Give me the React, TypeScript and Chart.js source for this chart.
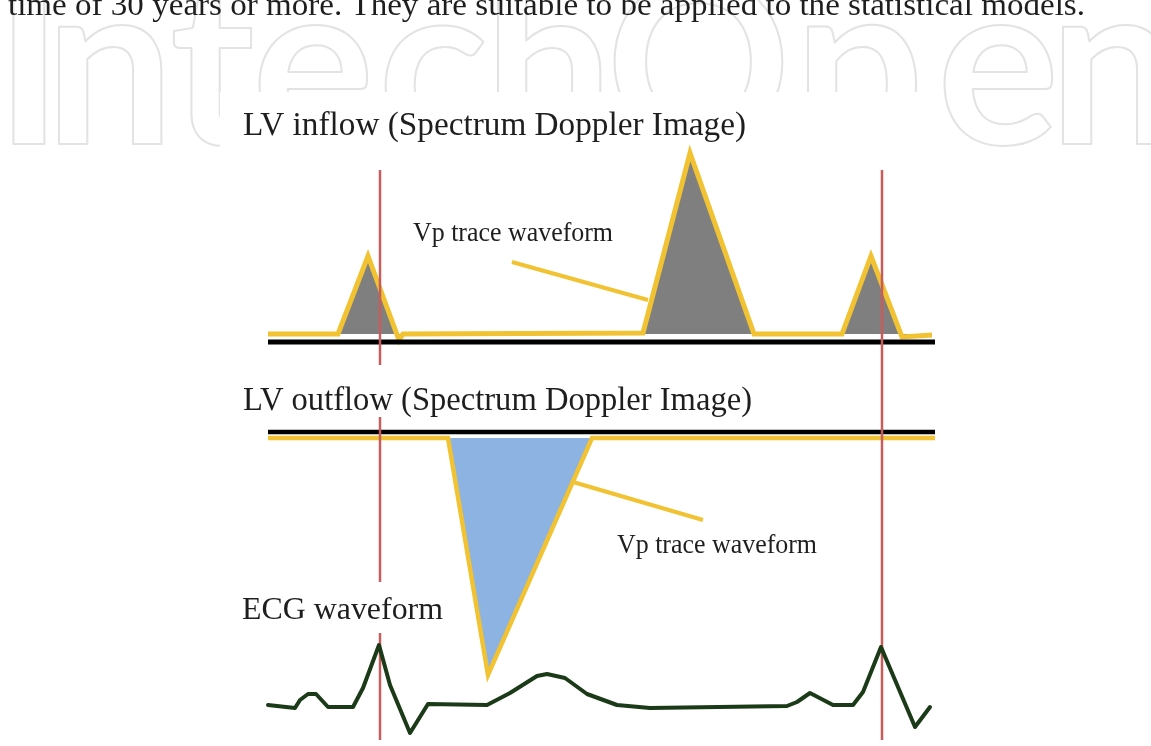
import { useEffect, useRef } from 'react';
import { Chart, registerables } from 'chart.js';

Chart.register(...registerables);

const W = 1151;
const H = 746;

// ---- Data (time units along x, amplitude units along y) ----
const inflowTime = [268, 338, 368, 399, 403, 643, 690, 754, 842, 871, 902, 932];
const inflowVelocity = [0, 0, 78, -6, 0, 1, 181, 0, 0, 78, -3, -1];

const outflowTime = [268, 448, 488, 592, 935];
const outflowVelocity = [0, 0, -237, 0, 0];

const ecgTime = [268, 295, 300, 308, 316, 328, 353, 363, 379, 390, 410, 428, 487, 510, 537, 547, 565, 587, 617, 650, 787, 797, 810, 833, 853, 863, 881, 895, 915, 930];
const ecgAmplitude = [0, -3, 5, 11, 11, -2, -2, 17, 60, 20, -28, 1, 0, 12, 29, 31, 27, 11, 0, -3, -1, 3, 12, 0, 0, 13, 58, 25, -22, -2];

const baselineTime = [268, 935];
const inflowZero = [-8, -8];
const outflowZero = [6, 6];

const markerTimes = [380, 882];

const titleInflow = 'LV inflow (Spectrum Doppler Image)';
const titleOutflow = 'LV outflow (Spectrum Doppler Image)';
const traceLabel = 'Vp trace waveform';
const ecgLabel = 'ECG waveform';
const bodyText = 'time of 30 years or more. They are suitable to be applied to the statistical models.';

// ---- Styles ----
const YELLOW = '#f1c232';
const GRAY = '#7f7f7f';
const BLUE = '#8db3e2';
const ECG_GREEN = '#1b3a17';
const RED = '#c65c5c';
const TEXT = '#1e1e1e';

const pts = (xs: number[], ys: number[]) => xs.map((x, i) => ({ x, y: ys[i] }));

function fitText(ctx: CanvasRenderingContext2D, text: string, x: number, baseline: number, size: number, width: number, color: string) {
  ctx.save();
  ctx.font = `${size}px "Liberation Serif", "Times New Roman", serif`;
  const m = ctx.measureText(text).width;
  ctx.translate(x, baseline);
  ctx.scale(width / m, 1);
  ctx.fillStyle = color;
  ctx.textBaseline = 'alphabetic';
  ctx.textAlign = 'left';
  ctx.fillText(text, 0, 0);
  ctx.restore();
}

export default function App() {
  const ref = useRef<HTMLCanvasElement>(null);

  useEffect(() => {
    const canvas = ref.current;
    if (!canvas) return;

    const decor = {
      id: 'decor',
      beforeDraw(chart: any) {
        const ctx: CanvasRenderingContext2D = chart.ctx;
        ctx.save();
        ctx.beginPath();
        ctx.rect(0, 0, W, H);
        ctx.rect(220, 92, 720, H - 92);
        ctx.clip('evenodd');
        ctx.font = 'bold 229px Lato, "Noto Sans", sans-serif';
        ctx.strokeStyle = '#e3e3e3';
        ctx.lineWidth = 2;
        ctx.lineJoin = 'round';
        ctx.textBaseline = 'alphabetic';
        const letters: [string, number][] = [
          ['I', 13], ['n', 58], ['t', 173], ['e', 259], ['c', 385],
          ['h', 497], ['O', 614], ['p', 807], ['e', 944], ['n', 1062],
        ];
        letters.forEach(([ch, left]) => {
          const m = ctx.measureText(ch);
          ctx.strokeText(ch, left + m.actualBoundingBoxLeft, 144);
        });
        ctx.restore();
      },
      beforeDatasetDraw(chart: any, args: any) {
        if (args.index !== 0) return;
        const ctx: CanvasRenderingContext2D = chart.ctx;
        const xs = chart.scales.x;
        const ranges: [number, number][][] = [
          [[170, 365], [417, 582], [633, 740]],
          [[170, 740]],
        ];
        ctx.save();
        ctx.strokeStyle = RED;
        ctx.lineWidth = 2.5;
        markerTimes.forEach((t, i) => {
          const px = xs.getPixelForValue(t);
          ranges[i].forEach(([a, b]) => {
            ctx.beginPath();
            ctx.moveTo(px, a);
            ctx.lineTo(px, b);
            ctx.stroke();
          });
        });
        ctx.restore();
      },
      afterDatasetsDraw(chart: any) {
        const ctx: CanvasRenderingContext2D = chart.ctx;
        const xs = chart.scales.x;
        const yIn = chart.scales.yIn;
        const yOut = chart.scales.yOut;
        // pointers
        ctx.save();
        ctx.strokeStyle = YELLOW;
        ctx.lineWidth = 4;
        ctx.lineCap = 'butt';
        ctx.beginPath();
        ctx.moveTo(xs.getPixelForValue(512), yIn.getPixelForValue(72));
        ctx.lineTo(xs.getPixelForValue(648), yIn.getPixelForValue(34));
        ctx.stroke();
        ctx.beginPath();
        ctx.moveTo(xs.getPixelForValue(573), yOut.getPixelForValue(-44));
        ctx.lineTo(xs.getPixelForValue(703), yOut.getPixelForValue(-82));
        ctx.stroke();
        ctx.restore();
        // texts
        fitText(ctx, bodyText, 8, 15, 32, 1077, TEXT);
        fitText(ctx, titleInflow, 243, 135, 34, 503, TEXT);
        fitText(ctx, titleOutflow, 243, 410, 34, 509, TEXT);
        fitText(ctx, traceLabel, 413, 241, 28, 200, TEXT);
        fitText(ctx, traceLabel, 617, 553, 28, 200, TEXT);
        fitText(ctx, ecgLabel, 242, 619, 32, 201, TEXT);
      },
    };

    const chart = new Chart(canvas, {
      type: 'line',
      data: {
        datasets: [
          {
            label: 'ECG',
            data: pts(ecgTime, ecgAmplitude),
            yAxisID: 'yEcg',
            borderColor: ECG_GREEN,
            borderWidth: 4,
            borderJoinStyle: 'round',
            borderCapStyle: 'round',
            fill: false,
            order: 0,
          },
          {
            label: 'Inflow zero',
            data: pts(baselineTime, inflowZero),
            yAxisID: 'yIn',
            borderColor: '#000000',
            borderWidth: 5,
            fill: false,
            order: 1,
          },
          {
            label: 'Outflow zero',
            data: pts(baselineTime, outflowZero),
            yAxisID: 'yOut',
            borderColor: '#000000',
            borderWidth: 4.5,
            fill: false,
            order: 1,
          },
          {
            label: 'Inflow Vp',
            data: pts(inflowTime, inflowVelocity),
            yAxisID: 'yIn',
            borderColor: YELLOW,
            backgroundColor: GRAY,
            borderWidth: 5,
            borderJoinStyle: 'miter',
            fill: 'origin',
            order: 2,
          },
          {
            label: 'Outflow Vp',
            data: pts(outflowTime, outflowVelocity),
            yAxisID: 'yOut',
            borderColor: YELLOW,
            backgroundColor: BLUE,
            borderWidth: 4.5,
            borderJoinStyle: 'miter',
            fill: 'origin',
            order: 2,
          },
        ],
      },
      options: {
        animation: false,
        responsive: false,
        maintainAspectRatio: false,
        devicePixelRatio: 1,
        events: [],
        layout: { padding: 0 },
        elements: { point: { radius: 0 }, line: { tension: 0 } },
        plugins: { legend: { display: false }, tooltip: { enabled: false }, title: { display: false } },
        scales: {
          x: { type: 'linear', min: 0, max: W, display: false },
          yIn: { type: 'linear', min: 334 - H, max: 334, display: false },
          yOut: { type: 'linear', min: 438 - H, max: 438, display: false },
          yEcg: { type: 'linear', min: 705 - H, max: 705, display: false },
        },
      } as any,
      plugins: [decor],
    });

    return () => chart.destroy();
  }, []);

  return (
    <div style={{ position: 'fixed', left: 0, top: 0, width: W, height: H, background: '#ffffff', overflow: 'hidden' }}>
      <canvas ref={ref} width={W} height={H} style={{ display: 'block', width: W, height: H }} />
    </div>
  );
}
